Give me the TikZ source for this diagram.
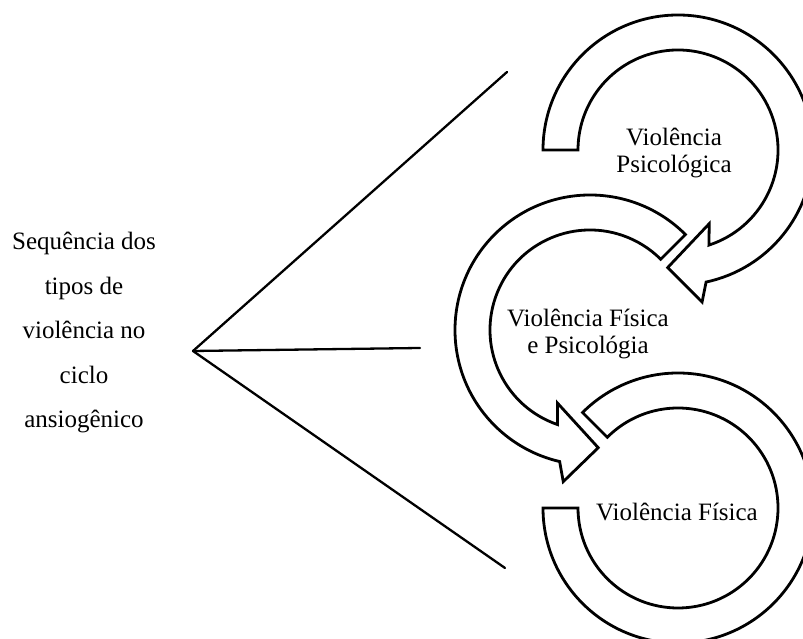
\documentclass[tikz,border=0pt]{standalone}
\usepackage{fontspec}
\setmainfont{Liberation Serif}
\usepackage{tikz}

\begin{document}
\begin{tikzpicture}[x=1pt, y=1pt,
    seta/.style={draw, line width=2.8pt, fill=white, line join=miter},
    rotulo/.style={align=center, font=\fontsize{25}{27}\selectfont},
    ramo/.style={line width=2.3pt, line cap=round},
  ]
  \useasboundingbox (0,0) rectangle (803,639);
  \clip (0,0) rectangle (803,639);

  % texto da esquerda
  \node[align=center, font=\fontsize{25}{44.5}\selectfont] (seq) at (84,306)
    {Sequência dos\\tipos de\\violência no\\ciclo\\ansiogênico};

  % ramos
  \coordinate (vertice) at (193,288);
  \coordinate (ramoA) at (507,567);
  \coordinate (ramoB) at (420,291);
  \coordinate (ramoC) at (505,71);
  \draw[ramo] (vertice) -- (ramoA);
  \draw[ramo] (vertice) -- (ramoB);
  \draw[ramo] (vertice) -- (ramoC);

  % setas circulares
  \coordinate (cPsi) at (678,489);
  \coordinate (cFP)  at (590,309);
  \coordinate (cFis) at (678,131);
  \draw[seta, shift={(cFis)}] (180:135) arc[start angle=180, end angle=495, radius=135pt]
    -- (495:100) arc[start angle=495, end angle=180, radius=100pt] -- cycle;
  \draw[seta, shift={(cFP)}] (45:135) arc[start angle=45, end angle=257, radius=135pt]
    -- (260:154) -- (274:118) -- (246:80) -- (251:100)
    arc[start angle=251, end angle=45, radius=100pt] -- cycle;
  \draw[seta, shift={(cPsi)}] (180:135) arc[start angle=180, end angle=-78, radius=135pt]
    -- (-81:154) -- (-95:118) -- (-67:80) -- (-72:100)
    arc[start angle=-72, end angle=180, radius=100pt] -- cycle;

  \node[rotulo] (psico)  at (674,486) {Violência\\Psicológica};
  \node[rotulo] (fispsi) at (588,305) {Violência Física\\e Psicológia};
  \node[rotulo] (fisica) at (677,127) {Violência Física};
\end{tikzpicture}
\end{document}
